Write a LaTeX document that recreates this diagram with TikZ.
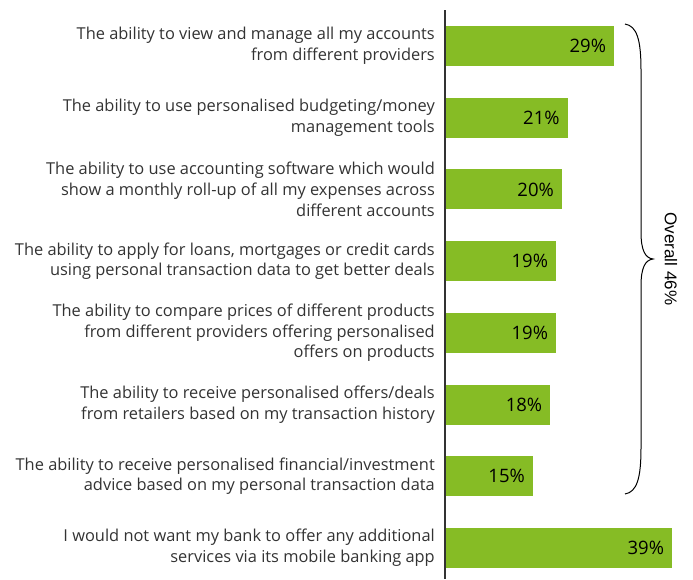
\documentclass[tikz,border=0pt]{standalone}
\usepackage{fontspec}
\setmainfont{Open Sans}
\newfontfamily\arialish{Liberation Sans}
\definecolor{bargreen}{HTML}{86BC25}
\definecolor{labgray}{HTML}{333333}
\begin{document}
\begin{tikzpicture}[x=1pt,y=-1pt,
  lab/.style={anchor=east,align=right,text=labgray,font=\fontsize{16.4}{20.7}\selectfont,inner sep=0pt},
  bar/.style={fill=bargreen,draw=none},
  pct/.style={anchor=east,text=black,font=\fontsize{18.5}{20}\selectfont,inner sep=0pt}]
\useasboundingbox (0,0) rectangle (693,579);
% bars: top y = 26 + 71.7 i, height 40; 5.8px per %
\def\bx{446}
\foreach \i/\v in {0/29,1/21,2/20,3/19,4/19,5/18,6/15,7/39}{
  \pgfmathsetmacro{\yt}{26+71.7*\i}
  \pgfmathsetmacro{\xe}{\bx+5.8*\v}
  \fill[bar] (\bx,\yt) rectangle (\xe,\yt+40);
  \node[pct] (p\i) at (\xe-8,\yt+20) {\v\%};
}
\node[lab] (l0) at (435,46) {The ability to view and manage all my accounts\\from different providers};
\node[lab] (l1) at (435,117.7) {The ability to use personalised budgeting/money\\management tools};
\node[lab] (l2) at (435,189.4) {The ability to use accounting software which would\\show a monthly roll-up of all my expenses across\\different accounts};
\node[lab] (l3) at (435,261.1) {The ability to apply for loans, mortgages or credit cards\\using personal transaction data to get better deals};
\node[lab] (l4) at (435,332.8) {The ability to compare prices of different products\\from different providers offering personalised\\offers on products};
\node[lab] (l5) at (435,404.5) {The ability to receive personalised offers/deals\\from retailers based on my transaction history};
\node[lab] (l6) at (435,476.2) {The ability to receive personalised financial/investment\\advice based on my personal transaction data};
\node[lab] (l7) at (435,547.9) {I would not want my bank to offer any additional\\services via its mobile banking app};
% axis
\draw[line width=1.4pt,draw=labgray] (445,10) -- (445,579);
% brace
\draw[line width=1pt,black]
  (625,24) .. controls (637,26) and (641,40) .. (641,70)
  -- (641,232) .. controls (641,250) and (645,258) .. (653,259)
  .. controls (645,260) and (641,268) .. (641,286)
  -- (641,448) .. controls (641,478) and (637,492) .. (625,494);
\node[rotate=-90,font=\arialish\fontsize{17}{20}\selectfont,text=black] (ov) at (671,259) {Overall 46\%};
\end{tikzpicture}
\end{document}
